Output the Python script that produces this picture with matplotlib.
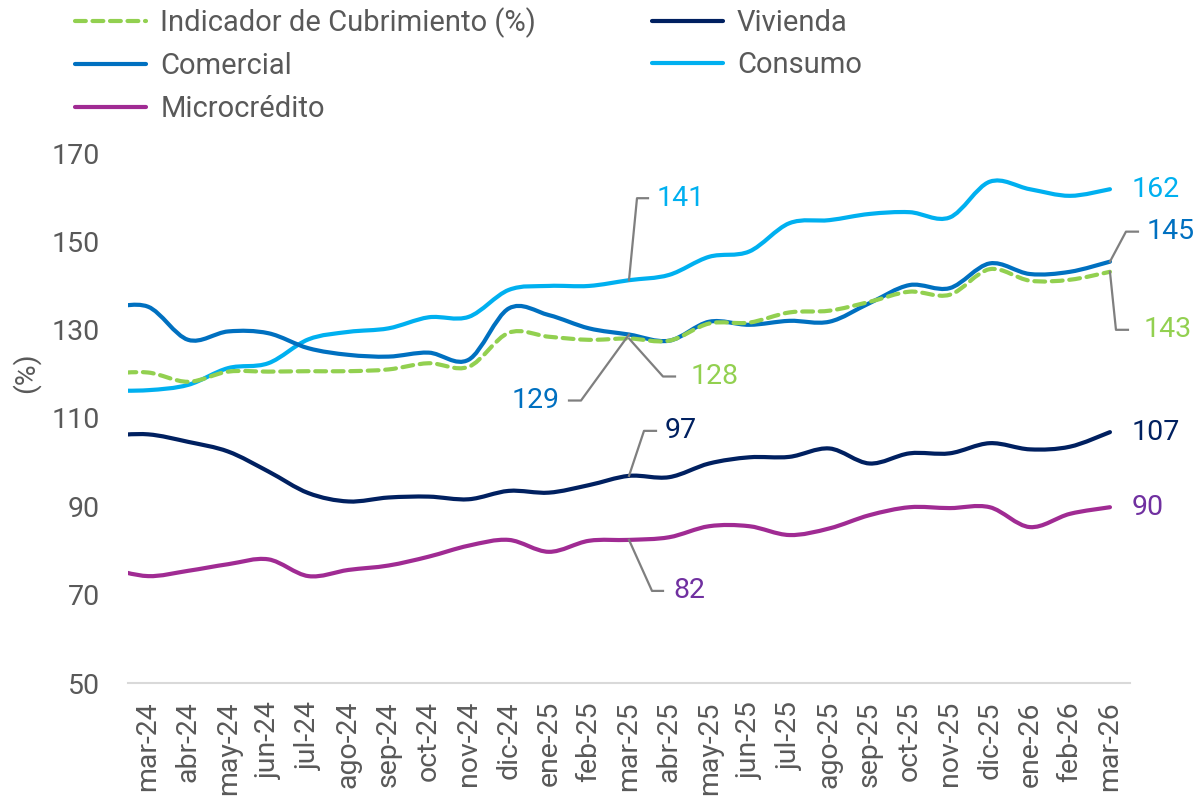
import numpy as np
import matplotlib
matplotlib.use("Agg")
import matplotlib.pyplot as plt
import matplotlib.transforms as mtransforms
from matplotlib.path import Path
from matplotlib.patches import PathPatch
from matplotlib.lines import Line2D

plt.rcParams['font.family'] = ['Roboto', 'DejaVu Sans']

# data (feb-24 sits just outside the left edge, the line is clipped there)
months = ['feb-24', 'mar-24', 'abr-24', 'may-24', 'jun-24', 'jul-24', 'ago-24', 'sep-24',
          'oct-24', 'nov-24', 'dic-24', 'ene-25', 'feb-25', 'mar-25', 'abr-25', 'may-25',
          'jun-25', 'jul-25', 'ago-25', 'sep-25', 'oct-25', 'nov-25', 'dic-25', 'ene-26',
          'feb-26', 'mar-26']
indicador = [120.0, 120.3, 118.2, 120.5, 120.5, 120.6, 120.6, 121.0, 122.4, 121.6, 129.3, 128.4, 127.7,
             128.0, 127.5, 131.4, 131.6, 133.9, 134.3, 136.3, 138.6, 137.9, 143.7, 141.1, 141.3, 143.1]
comercial = [134.8, 135.2, 127.7, 129.6, 129.2, 125.8, 124.3, 123.9, 124.8, 123.2, 134.8, 133.3, 130.3,
             128.9, 127.5, 131.8, 131.1, 132.0, 131.8, 136.0, 140.1, 139.4, 145.0, 142.6, 143.1, 145.4]
consumo = [116.2, 116.3, 117.5, 121.3, 122.4, 127.8, 129.5, 130.3, 132.8, 132.9, 139.0, 139.9, 139.9,
           141.2, 142.4, 146.5, 147.7, 154.1, 154.8, 156.2, 156.6, 155.4, 163.5, 161.8, 160.3, 161.8]
vivienda = [106.0, 106.3, 104.6, 102.4, 97.9, 93.0, 91.1, 92.0, 92.2, 91.6, 93.5, 93.1, 94.8,
            96.9, 96.6, 99.7, 101.1, 101.2, 103.1, 99.7, 102.0, 102.0, 104.3, 102.9, 103.5, 106.8]
microcredito = [76.0, 74.2, 75.4, 76.9, 78.0, 74.2, 75.6, 76.6, 78.6, 81.1, 82.4, 79.7, 82.2,
                82.4, 83.0, 85.5, 85.5, 83.5, 85.0, 88.0, 89.8, 89.6, 89.8, 85.3, 88.3, 89.8]

C_IND = '#92D050'
C_COM = '#0070C0'
C_CON = '#00B0F0'
C_VIV = '#002060'
C_MIC = '#A02B93'
C_MIC_TXT = '#7030A0'
GREY = '#595959'
LEADER = '#7F7F7F'
FS = 20.5

x = np.arange(len(months)) - 1  # mar-24 -> 0


def smooth_path(xs, ys):
    # excel-like smoothed line: cubic bezier with catmull-rom control points
    pts = np.column_stack([xs, ys]).astype(float)
    ext = np.vstack([pts[0], pts, pts[-1]])
    verts = [pts[0]]
    codes = [Path.MOVETO]
    for i in range(len(pts) - 1):
        p0, p1, p2, p3 = ext[i], ext[i + 1], ext[i + 2], ext[i + 3]
        verts += [p1 + (p2 - p0) / 6, p2 - (p3 - p1) / 6, p2]
        codes += [Path.CURVE4] * 3
    return Path(verts, codes)


fig = plt.figure(figsize=(11.93, 7.97), dpi=100)
ax = fig.add_axes([128 / 1193, 1 - 683 / 797, 1002 / 1193, 530 / 797])

series = [
    ('Indicador de Cubrimiento (%)', indicador, C_IND, (0, (2.6, 1.6))),
    ('Comercial', comercial, C_COM, '-'),
    ('Microcrédito', microcredito, C_MIC, '-'),
    ('Vivienda', vivienda, C_VIV, '-'),
    ('Consumo', consumo, C_CON, '-'),
]
handles = []
for name, vals, col, ls in series[::-1]:
    patch = PathPatch(smooth_path(x, vals), fill=False, edgecolor=col, lw=3.0,
                      linestyle=ls, capstyle='round', joinstyle='round')
    ax.add_patch(patch)
for name, vals, col, ls in series:
    handles.append(Line2D([], [], color=col, lw=3.0, linestyle=ls,
                          dash_capstyle='round', solid_capstyle='round', label=name))

ax.set_xlim(-0.5, 24.5)
ax.set_ylim(50, 170)
ax.set_yticks(np.arange(50, 171, 20))
ax.set_xticks(x[1:])
ax.set_xticklabels(months[1:], rotation=90)
ax.tick_params(axis='x', length=0, pad=13, labelsize=FS, labelcolor=GREY)
ax.tick_params(axis='y', length=0, pad=20, labelsize=FS, labelcolor=GREY)
for s in ['top', 'right', 'left']:
    ax.spines[s].set_visible(False)
ax.spines['bottom'].set_color('#D9D9D9')
ax.spines['bottom'].set_linewidth(1.5)
ax.set_ylabel('(%)', fontsize=FS, color=GREY)
ax.yaxis.set_label_coords(-0.088, 0.585)


def leader(i, vals, pts):
    tr = mtransforms.Affine2D() + mtransforms.ScaledTranslation(x[i], vals[i], ax.transData)
    xs = [0] + [p[0] for p in pts]
    ys = [0] + [p[1] for p in pts]
    ax.add_line(Line2D(xs, ys, transform=tr, color=LEADER, lw=1.6, clip_on=False))


def label(i, vals, dx, dy, col, ha='left'):
    ax.annotate(f'{round(vals[i])}', xy=(x[i], vals[i]), xytext=(dx, dy),
                textcoords='offset pixels', ha=ha, va='center', fontsize=FS,
                color=col, annotation_clip=False)


k = months.index('mar-25')
n = len(months) - 1

leader(k, consumo, [(8, 82), (19, 82)])
label(k, consumo, 28, 82, C_CON)
leader(k, comercial, [(-48, -66), (-60, -66)])
label(k, comercial, -69, -66, C_COM, ha='right')
leader(k, indicador, [(34, -38), (46, -38)])
label(k, indicador, 62, -38, C_IND)
leader(k, vivienda, [(15, 45), (27, 45)])
label(k, vivienda, 36, 45, C_VIV)
leader(k, microcredito, [(23, -51), (34, -51)])
label(k, microcredito, 44, -51, C_MIC_TXT)

label(n, consumo, 22, 0, C_CON)
leader(n, comercial, [(16, 30), (28, 30)])
label(n, comercial, 37, 30, C_COM)
leader(n, indicador, [(6, -58), (18, -58)])
label(n, indicador, 34, -58, C_IND)
label(n, vivienda, 22, 0, C_VIV)
label(n, microcredito, 22, 0, C_MIC_TXT)

fig.legend(handles=handles, ncol=2, loc='upper left', bbox_to_anchor=(75 / 1193, 1 - 7 / 797),
           frameon=False, fontsize=21, labelcolor=GREY, handlelength=2.45, handletextpad=0.48,
           columnspacing=3.95, labelspacing=0.5, borderpad=0, borderaxespad=0)

fig.savefig('out.png', dpi=100)
